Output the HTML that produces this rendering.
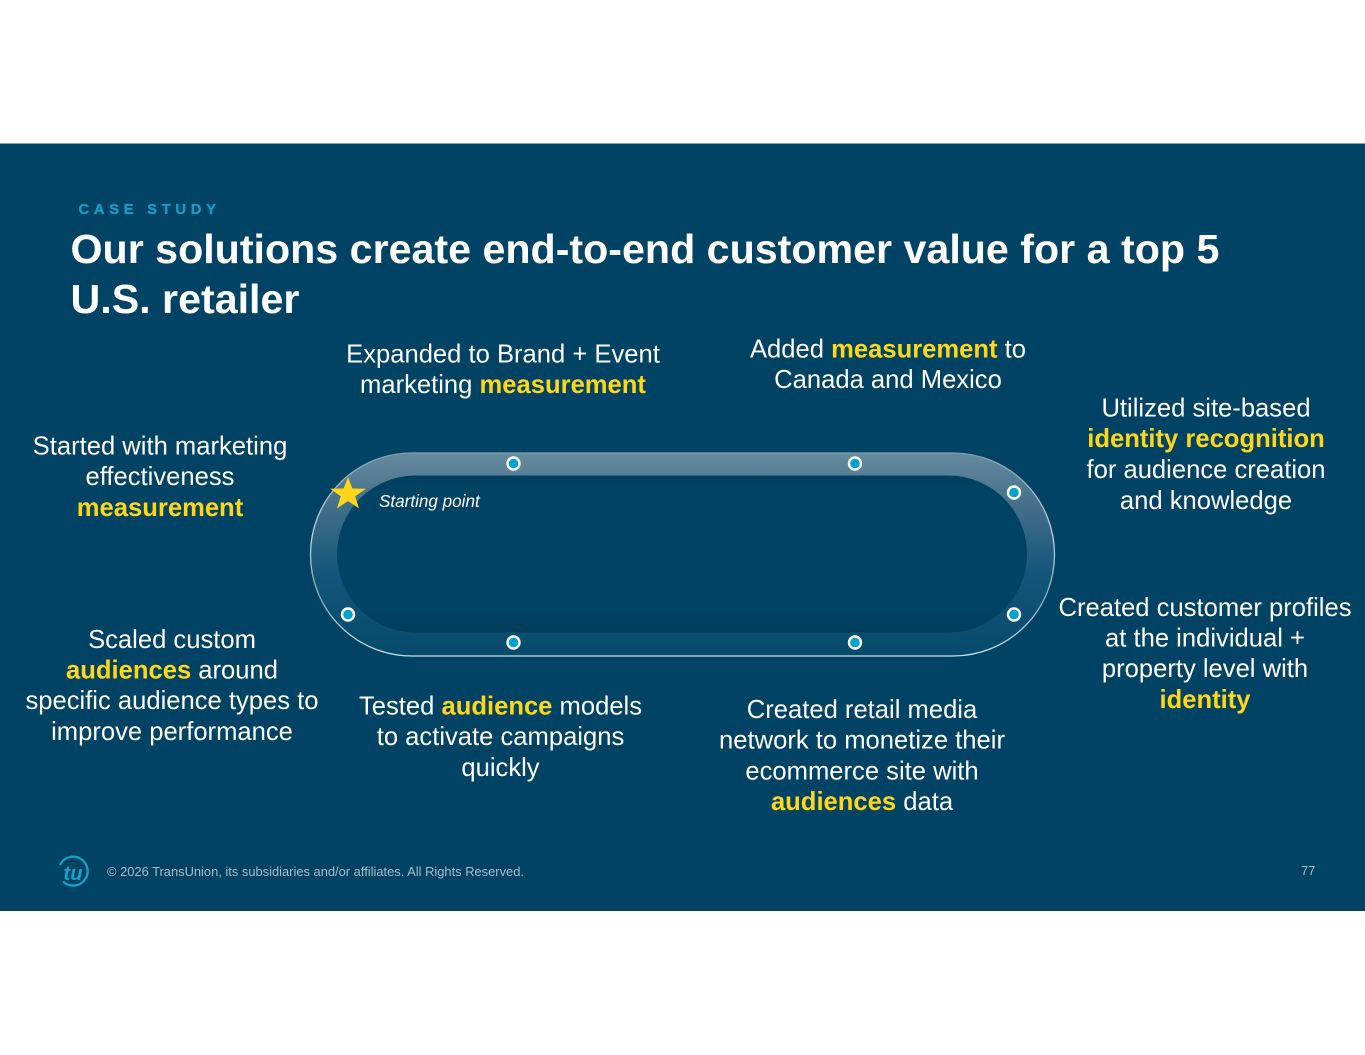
<!DOCTYPE html>
<html><head><meta charset="utf-8">
<style>
html,body{margin:0;padding:0;background:#fff;width:1365px;height:1055px;overflow:hidden}
svg{display:block;position:absolute;left:0;top:0}
text{font-family:"Liberation Sans",Arial,sans-serif}
.t{font-size:25.6px;fill:#fff;text-anchor:middle}
.y{font-weight:bold;fill:#ffd618}
.d{fill:#00a3cf;stroke:#fff;stroke-width:2.4}
</style></head><body>
<svg width="1365" height="1055" viewBox="0 0 1365 1055" xmlns="http://www.w3.org/2000/svg">
<defs>
<linearGradient id="tr" x1="0" y1="0" x2="0" y2="1">
<stop offset="0" stop-color="#668a9e"/><stop offset=".25" stop-color="#45708a"/><stop offset=".6" stop-color="#13557a"/><stop offset="1" stop-color="#064a6c"/></linearGradient>
<linearGradient id="ed" x1="0" y1="0" x2="0" y2="1">
<stop offset="0" stop-color="#7f9eb0"/><stop offset=".4" stop-color="#c5d4dc"/><stop offset=".7" stop-color="#8fabba"/><stop offset="1" stop-color="#d0dde3"/></linearGradient>
<linearGradient id="in" x1="0" y1="0" x2="0" y2="1">
<stop offset="0" stop-color="#003f5f"/><stop offset=".1" stop-color="#004364"/><stop offset=".85" stop-color="#004364"/><stop offset="1" stop-color="#003d5c"/></linearGradient>
</defs>
<rect x="0" y="143.500" width="1365" height="767.500" fill="#004364"/>
<rect x="310.500" y="453" width="744" height="203" rx="101.500" fill="url(#tr)" stroke="url(#ed)" stroke-width="1.300"/>
<rect x="337" y="475.500" width="690" height="157" rx="78.500" fill="url(#in)"/>
<circle class="d" cx="513.500" cy="463.500" r="6"/>
<circle class="d" cx="855" cy="463.500" r="6"/>
<circle class="d" cx="1014" cy="492.500" r="6"/>
<circle class="d" cx="1014" cy="614.500" r="6"/>
<circle class="d" cx="855" cy="642.500" r="6"/>
<circle class="d" cx="513.500" cy="642.500" r="6"/>
<circle class="d" cx="348" cy="614.500" r="6"/>
<polygon points="348,477 352.400,488.500 366,488.800 355.200,496.300 359,508.500 348,501 337,508.500 340.800,496.300 330,488.800 343.600,488.500" fill="#ffd618"/>
<text x="379" y="507" font-size="17.100" font-style="italic" fill="#fff">Starting point</text>
<text x="78.500" y="214" font-size="14.700" font-weight="bold" fill="#1a9dc4" stroke="#1a9dc4" stroke-width=".3" letter-spacing="4.750">CASE STUDY</text>
<text x="70.500" y="263" font-size="41.200" font-weight="bold" fill="#fff">Our solutions create end-to-end customer value for a top 5</text>
<text x="70.500" y="313" font-size="41.200" font-weight="bold" fill="#fff">U.S. retailer</text>
<text class="t" x="503" y="362.300">Expanded to Brand + Event</text>
<text class="t" x="503" y="393.200">marketing <tspan class="y">measurement</tspan></text>
<text class="t" x="888" y="357.300">Added <tspan class="y">measurement</tspan> to</text>
<text class="t" x="888" y="388.200">Canada and Mexico</text>
<text class="t" x="1206" y="416.300">Utilized site-based</text>
<text class="t y" x="1206" y="447.200">identity recognition</text>
<text class="t" x="1206" y="478">for audience creation</text>
<text class="t" x="1206" y="509">and knowledge</text>
<text class="t" x="160" y="454.300">Started with marketing</text>
<text class="t" x="160" y="485.200">effectiveness</text>
<text class="t y" x="160" y="516">measurement</text>
<text class="t" x="172" y="648">Scaled custom</text>
<text class="t" x="172" y="678.400"><tspan class="y">audiences</tspan> around</text>
<text class="t" x="172" y="709">specific audience types to</text>
<text class="t" x="172" y="740">improve performance</text>
<text class="t" x="500.500" y="714.300">Tested <tspan class="y">audience</tspan> models</text>
<text class="t" x="500.500" y="745.200">to activate campaigns</text>
<text class="t" x="500.500" y="776">quickly</text>
<text class="t" x="862" y="718">Created retail media</text>
<text class="t" x="862" y="748.400">network to monetize their</text>
<text class="t" x="862" y="779.300">ecommerce site with</text>
<text class="t" x="862" y="810"><tspan class="y">audiences</tspan> data</text>
<text class="t" x="1205" y="616">Created customer profiles</text>
<text class="t" x="1205" y="646.400">at the individual +</text>
<text class="t" x="1205" y="677">property level with</text>
<text class="t y" x="1205" y="708">identity</text>
<path d="M60 865 A14.500 14.500 0 1 1 63 881.500 Q69 887 77 885" fill="none" stroke="#16a3c9" stroke-width="2.200"/>
<text x="73" y="880" font-size="20" font-family="Liberation Serif" font-style="italic" font-weight="bold" fill="#16a3c9" text-anchor="middle">tu</text>
<text x="107" y="876" font-size="12.900" fill="#a9bcc8">© 2026 TransUnion, its subsidiaries and/or affiliates. All Rights Reserved.</text>
<text x="1301" y="875" font-size="12.900" fill="#a9bcc8">77</text>
</svg>
</body></html>
